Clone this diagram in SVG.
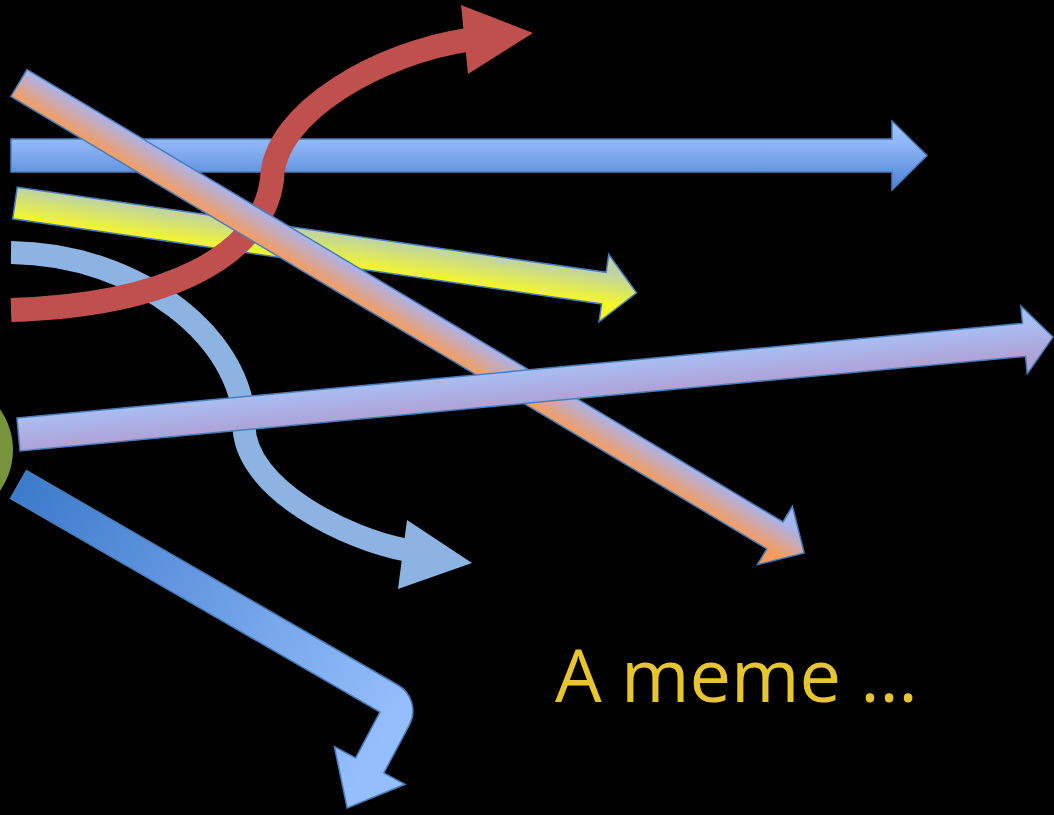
<svg xmlns="http://www.w3.org/2000/svg" width="1054" height="815" viewBox="0 0 1054 815">
  <defs>
    <linearGradient id="gBlue" x1="0" y1="121" x2="0" y2="190" gradientUnits="userSpaceOnUse">
      <stop offset="0" stop-color="#A3C6FB"/>
      <stop offset="0.35" stop-color="#8DB5F5"/>
      <stop offset="1" stop-color="#4A80D2"/>
    </linearGradient>
    <linearGradient id="gYellow" x1="0" y1="-16" x2="0" y2="16" gradientUnits="userSpaceOnUse">
      <stop offset="0" stop-color="#BDD3A6"/>
      <stop offset="1" stop-color="#F6F72A"/>
    </linearGradient>
    <linearGradient id="gDiag" x1="0" y1="-15.7" x2="0" y2="15.7" gradientUnits="userSpaceOnUse">
      <stop offset="0" stop-color="#A9B3EC"/>
      <stop offset="1" stop-color="#F69D5E"/>
    </linearGradient>
    <linearGradient id="gLav" x1="0" y1="-16.5" x2="0" y2="16.5" gradientUnits="userSpaceOnUse">
      <stop offset="0" stop-color="#A8BEF3"/>
      <stop offset="1" stop-color="#AFA2D6"/>
    </linearGradient>
    <linearGradient id="gBent" x1="18" y1="484" x2="400" y2="710" gradientUnits="userSpaceOnUse">
      <stop offset="0" stop-color="#3C7ACB"/>
      <stop offset="0.5" stop-color="#6A9CE3"/>
      <stop offset="1" stop-color="#95BEFC"/>
    </linearGradient>
  </defs>
  <style>
    .outl { stroke: #4A7EBB; stroke-width: 1.5; stroke-linejoin: miter; }
    .label { font-family: "Open Sans", "Noto Sans", "Liberation Sans", sans-serif; font-size: 74px; fill: #E6C52F; }
  </style>
  <rect x="0" y="0" width="1054" height="815" fill="#000000"/>

  <g id="circle">
    <circle cx="-57" cy="450" r="70" fill="#77933C"/>
  </g>

  <g id="connectors">
    <g id="arrow-blue-horizontal">
      <path class="outl" fill="url(#gBlue)" d="M11 139 L892 139 L892 121 L927 155.5 L892 190 L892 172 L11 172 Z"/>
    </g>
    <g id="arrow-yellow" transform="translate(15,203) rotate(8.23)">
      <path class="outl" fill="url(#gYellow)" d="M0 -16 L595 -16 L595 -34 L628 0 L595 34 L595 16 L0 16 Z"/>
    </g>
    <g id="arrow-lightblue-curve">
      <path d="M11 252.5 C140 254, 244 340, 244 425 C244 490, 350 540, 406 550" fill="none" stroke="#8DB3E2" stroke-width="23"/>
      <polygon points="407,520 472,563 398,589" fill="#8DB3E2"/>
    </g>
    <g id="arrow-red-curve">
      <path d="M11 310 C170 305, 262 255, 272 180 C273 110, 385 52, 467 40" fill="none" stroke="#C0504D" stroke-width="24"/>
      <polygon points="461,5 533,33 468,74" fill="#C0504D"/>
    </g>
    <g id="arrow-diagonal" transform="translate(19,83) rotate(30.9)">
      <path class="outl" fill="url(#gDiag)" d="M0 -15.7 L881 -15.7 L881 -34 L915 0 L881 34 L881 15.7 L0 15.7 Z"/>
    </g>
    <g id="arrow-lavender" transform="translate(18.5,434.5) rotate(-5.38)">
      <path class="outl" fill="url(#gLav)" d="M0 -16.5 L1010 -16.5 L1010 -34 L1039 0 L1010 34 L1010 16.5 L0 16.5 Z"/>
    </g>
    <g id="arrow-blue-bent">
      <path class="outl" fill="url(#gBent)" d="M26.5 470.6 L397.8 685 A30 30 0 0 1 409.3 725.1 L383.8 773 L405 784.3 L347.2 807.9 L334.4 746.7 L355.6 758 L380 712 L10.5 498.4 Z"/>
    </g>
  </g>

  <g id="caption">
    <text class="label" x="555" y="702">A meme …</text>
  </g>
</svg>
